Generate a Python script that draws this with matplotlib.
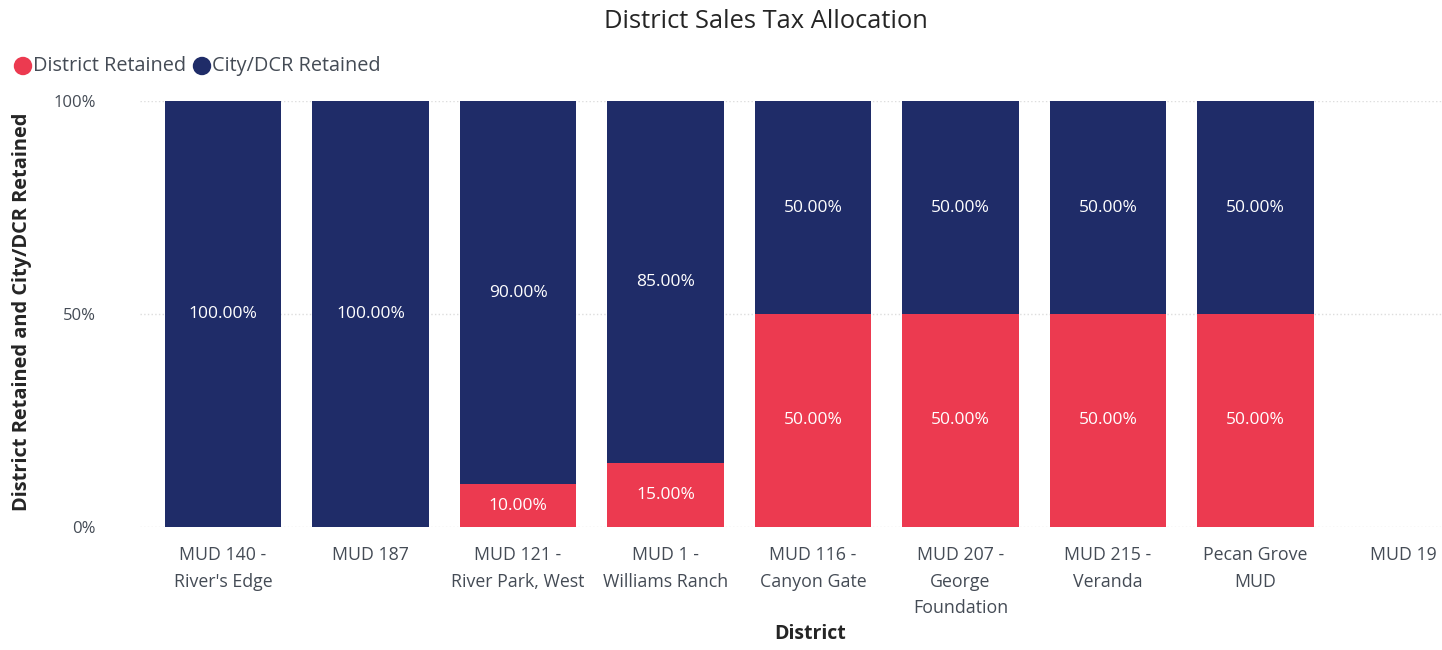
import matplotlib.pyplot as plt
import numpy as np

# chart values
districts = ["MUD 140 -\nRiver's Edge", "MUD 187", "MUD 121 -\nRiver Park, West",
             "MUD 1 -\nWilliams Ranch", "MUD 116 -\nCanyon Gate", "MUD 207 -\nGeorge\nFoundation",
             "MUD 215 -\nVeranda", "Pecan Grove\nMUD", "MUD 19"]
district_retained = [0, 0, 10, 15, 50, 50, 50, 50, np.nan]
city_retained = [100, 100, 90, 85, 50, 50, 50, 50, np.nan]

red = "#EC3A50"
navy = "#1F2C68"
txt = "#444B55"

plt.rcParams['font.family'] = ['Open Sans', 'DejaVu Sans']

fig = plt.figure(figsize=(14.42, 6.5), dpi=100)
# axes placed in pixel terms: left 140, right 1442, bottom 0% at y=527, top 100% at y=101
ax = fig.add_axes([140 / 1442, 123 / 650, 1302 / 1442, 426 / 650])

x = np.arange(len(districts))
w = 0.79
dr = np.nan_to_num(np.array(district_retained, dtype=float))
cr = np.nan_to_num(np.array(city_retained, dtype=float))
ax.bar(x, dr, width=w, color=red, zorder=2)
ax.bar(x, cr, width=w, bottom=dr, color=navy, zorder=2)

# data labels in the middle of each segment
for i in range(len(districts)):
    if dr[i] > 0:
        ax.text(x[i], dr[i] / 2, f"{dr[i]:.2f}%", ha='center', va='center',
                color='white', fontsize=12.5)
    if cr[i] > 0:
        ax.text(x[i], dr[i] + cr[i] / 2, f"{cr[i]:.2f}%", ha='center', va='center',
                color='white', fontsize=12.5)

ax.set_xlim((140 - 223) / 147.5, (1442 - 223) / 147.5)
ax.set_ylim(0, 100)
ax.set_yticks([0, 50, 100])
ax.set_yticklabels(["0%", "50%", "100%"])
ax.set_xticks(x)
ax.set_xticklabels(districts, fontsize=12.8, color=txt, linespacing=1.6)
ax.tick_params(axis='y', labelsize=12, colors=txt, length=0, pad=32)
ax.tick_params(axis='x', length=0, pad=14)
for s in ax.spines.values():
    s.set_visible(False)
ax.grid(axis='y', color='#DDDDDD', linestyle=':', linewidth=1, zorder=0)

ax.set_ylabel("District Retained and City/DCR Retained", fontsize=14.4,
              fontweight='bold', color='#252525')
ax.set_xlabel("District", fontsize=14, fontweight='bold', color='#252525')
ax.yaxis.set_label_coords(-108 / 1302, 0.505)
ax.xaxis.set_label_coords((810 - 140) / 1302, (650 - 624 - 123) / 426)

fig.text(766 / 1442, 1 - 21 / 650, "District Sales Tax Allocation", ha='center', va='center',
         fontsize=18.4, color='#252525')

# legend drawn as a row of dots and labels
ax_leg = fig.add_axes([0, 0, 1, 1], facecolor='none')
ax_leg.set_axis_off()
ax_leg.set_xlim(0, 1442)
ax_leg.set_ylim(650, 0)
ax_leg.scatter([23, 202], [66, 66], s=150, color=[red, navy])
ax_leg.text(33, 66, "District Retained", va='center', fontsize=14.3, color=txt)
ax_leg.text(212, 66, "City/DCR Retained", va='center', fontsize=14.3, color=txt)

fig.savefig("out.png", dpi=100)
